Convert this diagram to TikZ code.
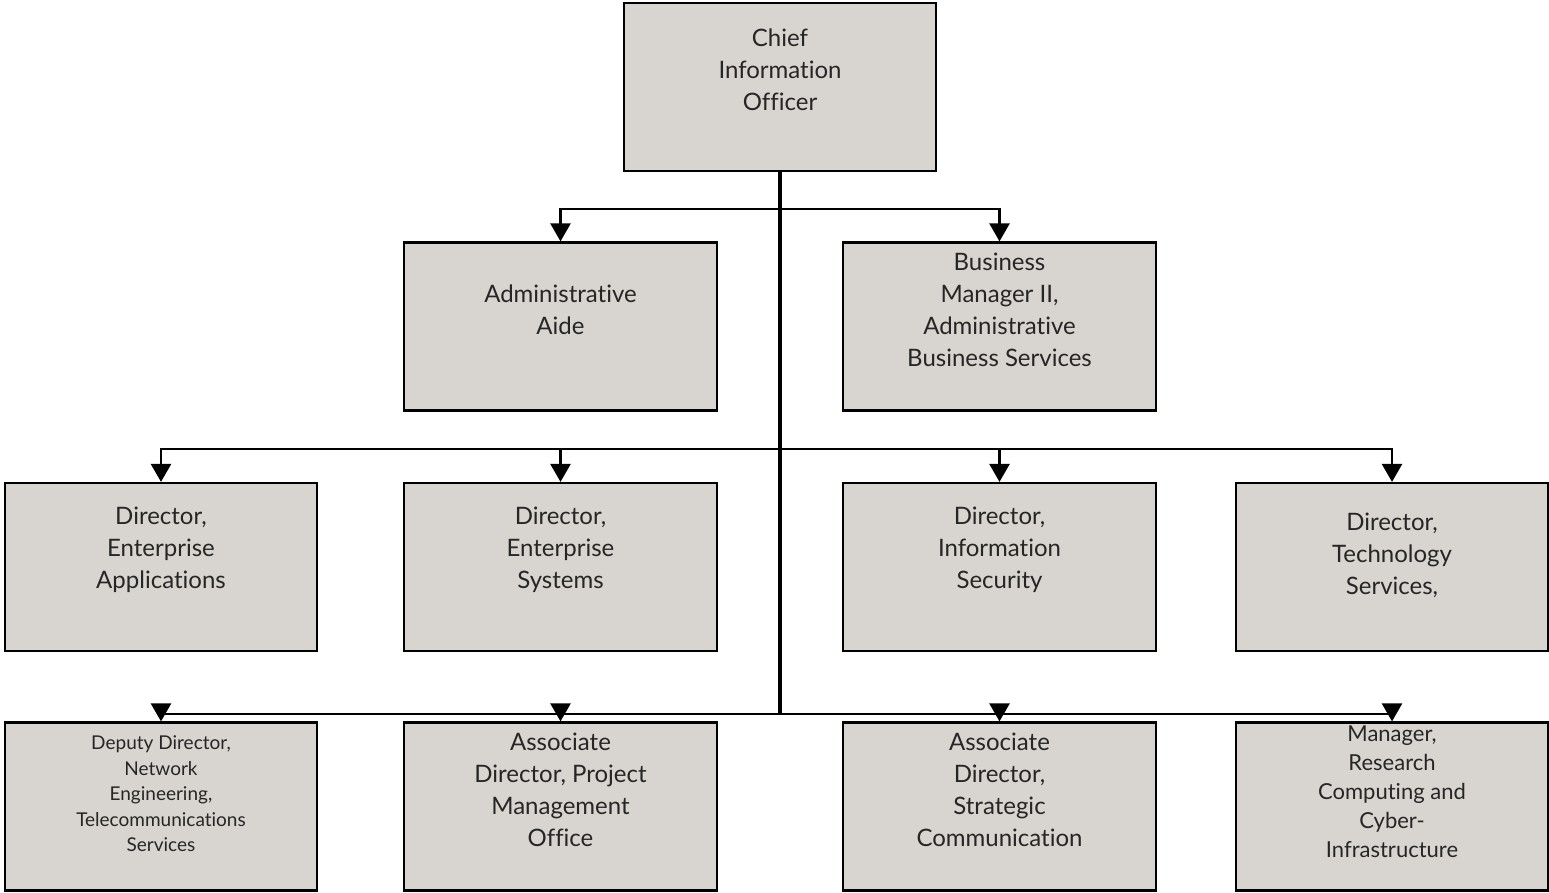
\documentclass[tikz,border=0pt]{standalone}
\usepackage{fontspec}
\setmainfont{Lato}[Ligatures={NoCommon}]
\usetikzlibrary{arrows.meta}
\definecolor{boxfill}{HTML}{D8D4CF}
\definecolor{txt}{HTML}{262626}
\tikzset{
  box/.style={draw=black, line width=2.2pt, fill=boxfill, minimum width=#1, minimum height=168pt, inner sep=0pt},
  box/.default=312pt,
  lbl/.style={align=center, text=txt, font=\fontsize{24}{32}\selectfont, inner sep=0pt},
  small/.style={font=\fontsize{19}{25.5}\selectfont},
  mid/.style={font=\fontsize{22}{29}\selectfont},
  conn/.style={line width=2.5pt},
  trunk/.style={line width=3.6pt},
  arr/.style={line width=2.5pt, -{Triangle[width=20pt,length=18pt]}},
}
\begin{document}
\begin{tikzpicture}[x=1pt,y=-1pt]
\useasboundingbox (0,0) rectangle (1549,893);
% boxes
\node[box] (cio) at (780,87) {};
\node[box=313pt] (aide) at (560.5,326.5) {};
\node[box=313pt] (biz) at (999.5,326.5) {};
\node[box] (dea) at (161,567) {};
\node[box=313pt] (des) at (560.5,567) {};
\node[box=313pt] (dis) at (999.5,567) {};
\node[box] (dts) at (1392,567) {};
\node[box] (ddn) at (161,806.5) {};
\node[box=313pt] (apm) at (560.5,806.5) {};
\node[box=313pt] (asc) at (999.5,806.5) {};
\node[box] (mrc) at (1392,806.5) {};
% labels
\node[lbl] (tcio) at (780,70) {Chief\\Information\\Officer};
\node[lbl] (taide) at (560.5,310) {Administrative\\Aide};
\node[lbl] (tbiz) at (999.5,310) {Business\\Manager II,\\Administrative\\Business Services};
\node[lbl] (tdea) at (161,550) {Director,\\Enterprise\\Applications};
\node[lbl] (tdes) at (560.5,550) {Director,\\Enterprise\\Systems};
\node[lbl] (tdis) at (999.5,550) {Director,\\Information\\Security};
\node[lbl] (tdts) at (1392,555) {Director,\\Technology\\Services,};
\node[lbl,small] (tddn) at (161,794) {Deputy Director,\\Network\\Engineering,\\Telecommunications\\Services};
\node[lbl] (tapm) at (560.5,790) {Associate\\Director, Project\\Management\\Office};
\node[lbl] (tasc) at (999.5,790) {Associate\\Director,\\Strategic\\Communication};
\node[lbl,mid] (tmrc) at (1392,792) {Manager,\\Research\\Computing and\\Cyber-\\Infrastructure};
% connectors
\coordinate (j1) at (780,209);
\coordinate (j2) at (780,449);
\coordinate (j3) at (780,714);
\draw[trunk] (cio.south) -- (j3);
\draw[arr] (j1) -| (aide.north);
\draw[arr] (j1) -| (biz.north);
\draw[arr] (j2) -| (dea.north);
\draw[arr] (j2) -| (des.north);
\draw[arr] (j2) -| (dis.north);
\draw[arr] (j2) -| (dts.north);
\draw[arr] (j3) -| (ddn.north);
\draw[arr] (j3) -| (apm.north);
\draw[arr] (j3) -| (asc.north);
\draw[arr] (j3) -| (mrc.north);
\end{tikzpicture}
\end{document}
